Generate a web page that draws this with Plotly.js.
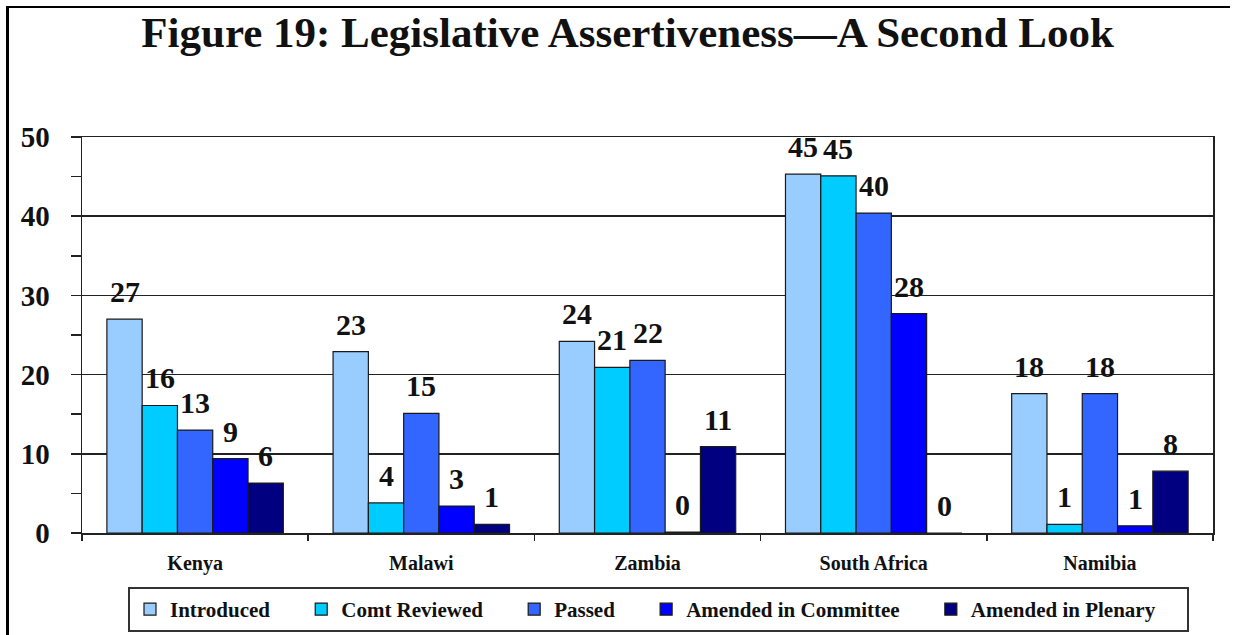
<!DOCTYPE html>
<html><head><meta charset="utf-8">
<script src="https://cdn.plot.ly/plotly-3.0.1.min.js"></script>
<style>
html,body{margin:0;padding:0;background:#fff;}
#chart{width:1233px;height:635px;position:absolute;left:0;top:0;}
#frame{position:absolute;left:6px;top:6px;width:1221px;height:640px;border-left:3px solid #000;border-top:2px solid #000;pointer-events:none;}
</style>
</head><body>
<div id="chart"></div><div id="frame"></div>
<script>
const categories = ['Kenya', 'Malawi', 'Zambia', 'South Africa', 'Namibia'];
const seriesNames = ['Introduced', 'Comt Reviewed', 'Passed', 'Amended in Committee', 'Amended in Plenary'];
const introduced = [27, 22.9, 24.2, 45.3, 17.6];
const comtReviewed = [16.1, 3.8, 20.9, 45.1, 1.1];
const passed = [13, 15.1, 21.8, 40.4, 17.6];
const amendedCommittee = [9.4, 3.4, 0.1, 27.7, 0.9];
const amendedPlenary = [6.3, 1.1, 10.9, 0, 7.8];
const yTickVals = [0, 10, 20, 30, 40, 50];

const seriesValues = [introduced, comtReviewed, passed, amendedCommittee, amendedPlenary];
const colors = ['#99CCFF', '#00CCFF', '#3366FF', '#0000FF', '#000080'];

const serif = 'Liberation Serif';
const bold = s => '<b>' + s + '</b>';
const margin = {l: 82, r: 20, t: 137, b: 102};
const W = 1233, H = 635;
const bargap = 0.22;
const legendPad = '\u00a0'.repeat(5);

const traces = seriesNames.map((name, i) => ({
  type: 'bar',
  name: bold(name) + legendPad,
  x: categories,
  y: seriesValues[i],
  marker: {color: colors[i], line: {color: '#1a1a1a', width: 1.2}},
  hoverinfo: 'x+y'
}));

const plotW = W - margin.l - margin.r;
const catW = plotW / categories.length;
const barW = catW * (1 - bargap) / seriesNames.length;

const annotations = [];
seriesValues.forEach((vals, i) => {
  vals.forEach((v, j) => {
    annotations.push({
      x: categories[j], y: v, xref: 'x', yref: 'y',
      text: bold(String(Math.round(v))),
      showarrow: false,
      xanchor: 'center', yanchor: 'bottom',
      xshift: (i - (seriesNames.length - 1) / 2) * barW,
      yshift: 9,
      font: {family: serif, size: 30, color: '#111'}
    });
  });
});

const layout = {
  width: W, height: H,
  margin: margin,
  paper_bgcolor: '#fff', plot_bgcolor: '#fff',
  barmode: 'group', bargap: bargap, bargroupgap: 0,
  font: {family: serif, color: '#111'},
  title: {
    text: bold('Figure 19: Legislative Assertiveness\u2014A Second Look'),
    font: {family: serif, size: 43, color: '#111'},
    xref: 'container', x: 0.509, xanchor: 'center',
    yref: 'container', y: 0.95, yanchor: 'middle'
  },
  xaxis: {
    type: 'category', automargin: false,
    tickvals: categories, ticktext: categories.map(bold),
    showline: true, linecolor: '#222', linewidth: 1.5, mirror: true,
    ticks: 'outside', tickson: 'boundaries', ticklen: 6, tickcolor: '#222', tickwidth: 1.5,
    ticklabelstandoff: 11,
    tickfont: {family: serif, size: 20, color: '#111'},
    showgrid: false, zeroline: false
  },
  yaxis: {
    automargin: false,
    range: [0, 50], tickvals: yTickVals, ticktext: yTickVals.map(v => bold(String(v))),
    showline: true, linecolor: '#222', linewidth: 1.5, mirror: true,
    ticks: 'outside', ticklen: 10, tickcolor: '#222', tickwidth: 1.5,
    ticklabelstandoff: 15,
    minor: {dtick: 5, ticks: 'outside', ticklen: 10, tickcolor: '#222', tickwidth: 1.5, showgrid: false},
    tickfont: {family: serif, size: 29, color: '#111'},
    showgrid: true, gridcolor: '#222', gridwidth: 1.5, zeroline: false
  },
  showlegend: true,
  legend: {
    orientation: 'h',
    xref: 'paper', x: (128 - margin.l) / plotW, xanchor: 'left',
    yref: 'container', y: 1 - 587 / H, yanchor: 'top',
    bgcolor: '#fff', bordercolor: '#333', borderwidth: 2,
    font: {family: serif, size: 21, color: '#111'},
    itemwidth: 30, traceorder: 'normal'
  },
  annotations: annotations
};

Plotly.newPlot('chart', traces, layout, {displayModeBar: false, staticPlot: true});
</script>
</body></html>
